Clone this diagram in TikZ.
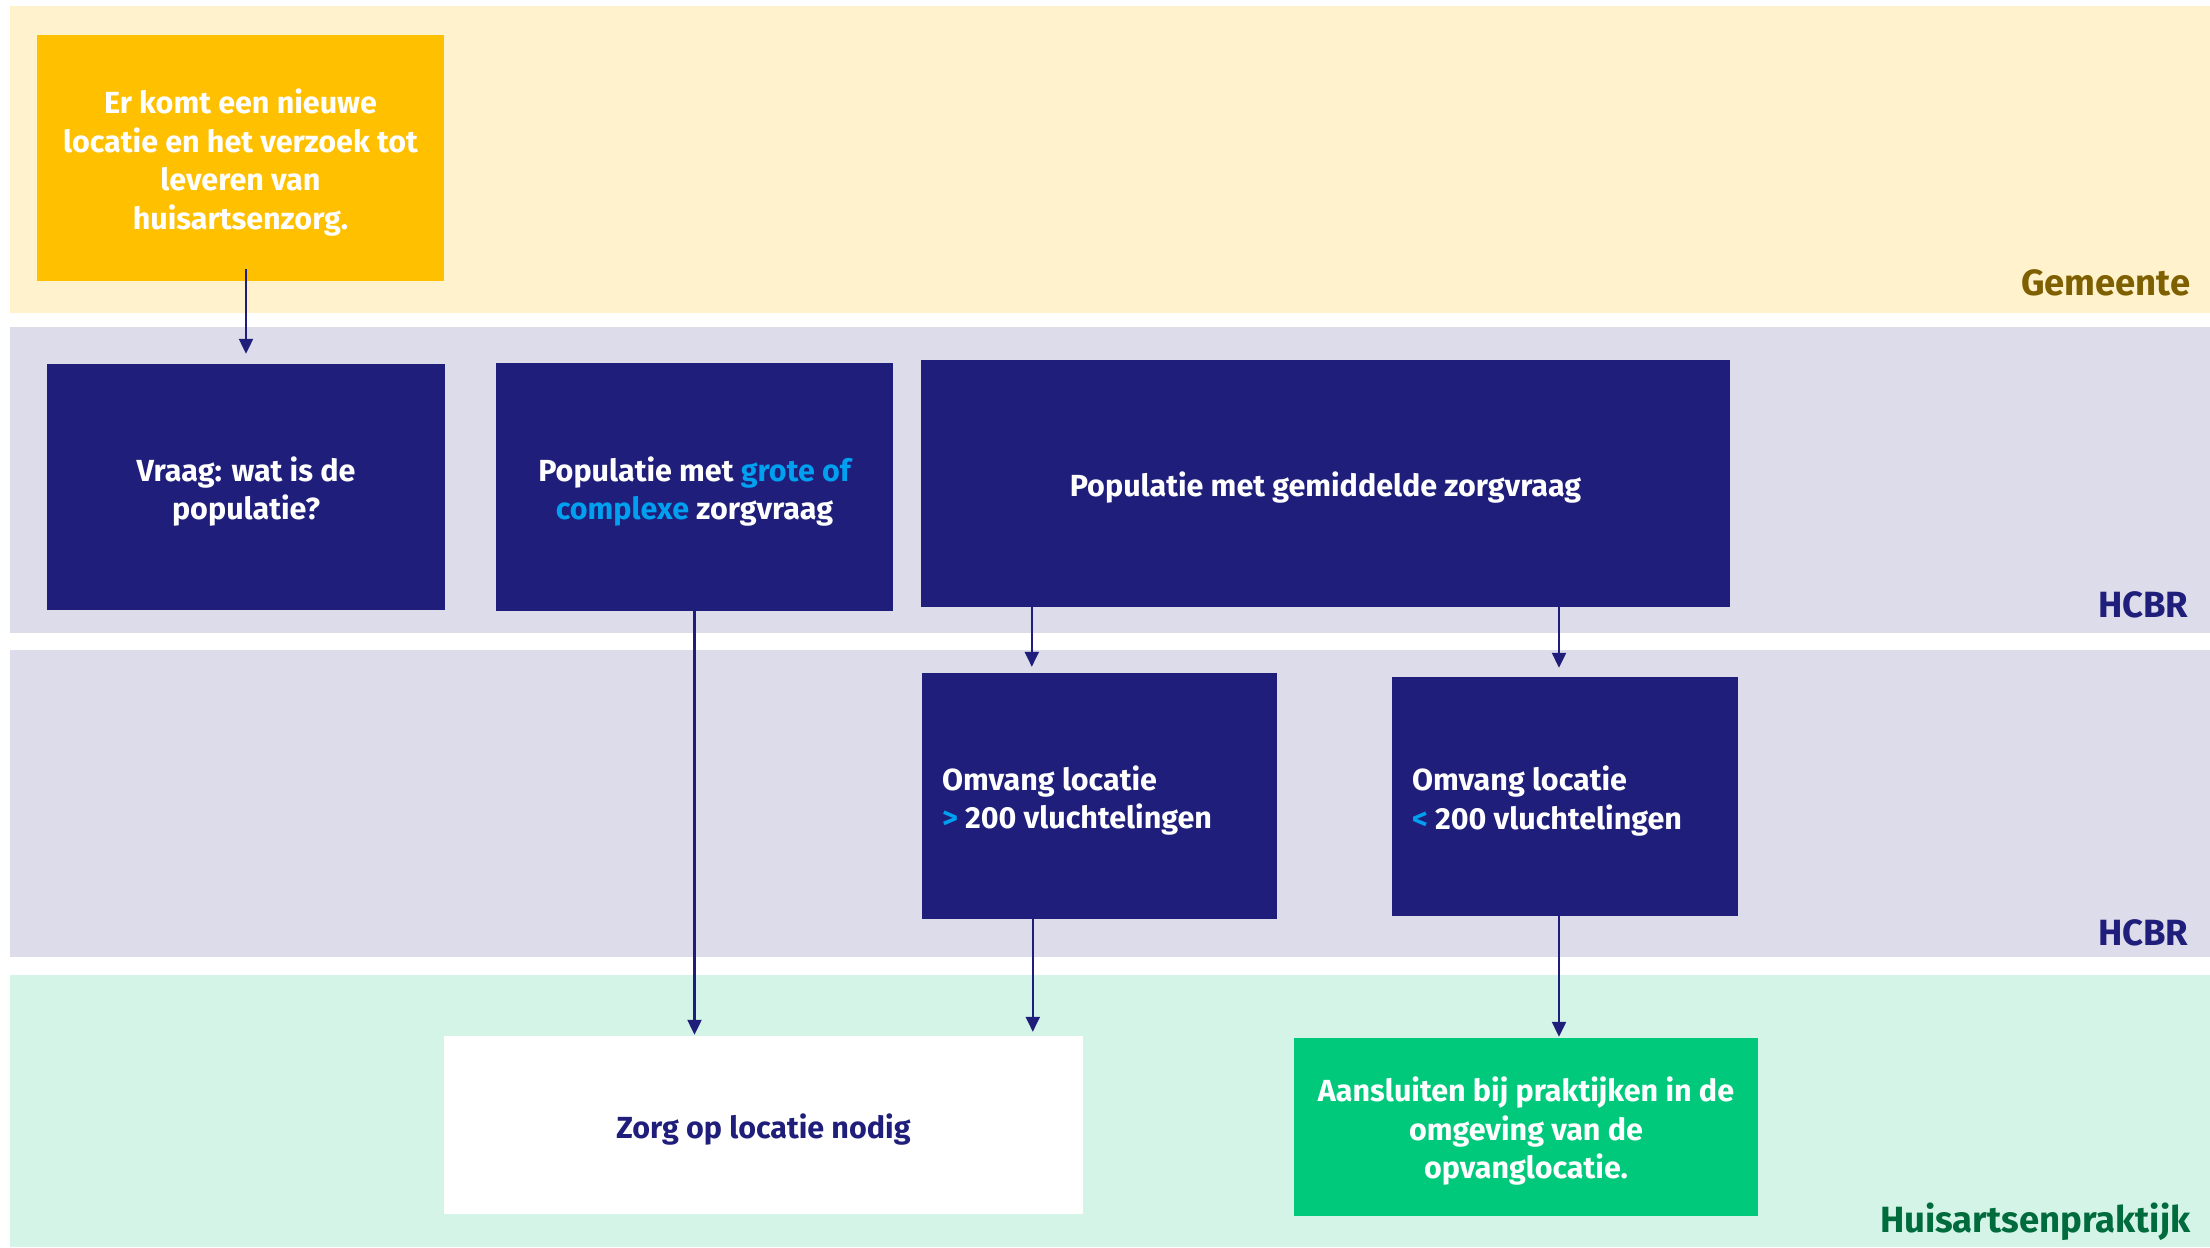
\documentclass[tikz,border=0pt]{standalone}
\usepackage{fontspec}
\setmainfont{Fira Sans}
\usetikzlibrary{arrows.meta}
\definecolor{navy}{RGB}{31,30,122}
\definecolor{bandY}{RGB}{255,242,204}
\definecolor{bandL}{RGB}{220,220,234}
\definecolor{bandG}{RGB}{211,244,230}
\definecolor{boxY}{RGB}{255,192,0}
\definecolor{boxG}{RGB}{0,201,124}
\definecolor{hl}{RGB}{0,160,240}
\definecolor{labY}{RGB}{127,96,0}
\definecolor{labG}{RGB}{0,107,60}
\begin{document}
\begin{tikzpicture}[x=1pt,y=-1pt,
  stepbox/.style={rectangle, inner sep=0pt},
  txt/.style={font=\fontsize{30.5}{38.5}\selectfont\bfseries, inner sep=0pt, align=center, text=white},
  lane/.style={anchor=base east, font=\fontsize{36.5}{40}\selectfont\bfseries},
  arr/.style={draw=navy, line width=2.2pt, -{Triangle[length=15pt,width=14pt]}}
]
\useasboundingbox (0,0) rectangle (2210,1247);
% lanes
\fill[bandY] (10,6) rectangle (2210,313);
\fill[bandL] (10,327) rectangle (2210,633);
\fill[bandL] (10,650) rectangle (2210,957);
\fill[bandG] (10,975) rectangle (2210,1247);
\node[lane, text=labY] (lgem) at (2194,295) {Gemeente};
\node[lane, text=navy] (lhc1) at (2192,617) {HCBR};
\node[lane, text=navy] (lhc2) at (2192,945) {HCBR};
\node[lane, text=labG] (lhuis) at (2194,1232) {Huisartsenpraktijk};
% boxes
\node[stepbox, fill=boxY, minimum width=407pt, minimum height=246pt] (ybox) at (240.5,158) {};
\node[stepbox, fill=navy, minimum width=398pt, minimum height=246pt] (box1) at (246,487) {};
\node[stepbox, fill=navy, minimum width=397pt, minimum height=248pt] (box2) at (694.5,487) {};
\node[stepbox, fill=navy, minimum width=809pt, minimum height=247pt] (box3) at (1325.5,483.5) {};
\node[stepbox, fill=navy, minimum width=355pt, minimum height=246pt] (box4) at (1099.5,796) {};
\node[stepbox, fill=navy, minimum width=346pt, minimum height=239pt] (box5) at (1565,796.5) {};
\node[stepbox, fill=white, minimum width=639pt, minimum height=178pt] (wbox) at (763.5,1125) {};
\node[stepbox, fill=boxG, minimum width=464pt, minimum height=178pt] (gbox) at (1526,1127) {};
% texts
\node[txt] (yboxt) at ([yshift=-4.5pt]ybox.center)
  {Er komt een nieuwe\\locatie en het verzoek tot\\leveren van\\huisartsenzorg.};
\node[txt] (box1t) at ([yshift=-4.5pt]box1.center) {Vraag: wat is de\\populatie?};
\node[txt] (box2t) at ([yshift=-4.5pt]box2.center)
  {Populatie met {\color{hl}grote of}\\{\color{hl}complexe} zorgvraag};
\node[txt] (box3t) at ([yshift=-4.5pt]box3.center) {Populatie met gemiddelde zorgvraag};
\node[txt, align=left, anchor=west] (box4t) at ([xshift=20pt,yshift=-4.5pt]box4.west)
  {Omvang locatie\\{\color{hl}>} 200 vluchtelingen};
\node[txt, align=left, anchor=west] (box5t) at ([xshift=20pt,yshift=-4.5pt]box5.west)
  {Omvang locatie\\{\color{hl}<} 200 vluchtelingen};
\node[txt, text=navy] (wboxt) at ([yshift=-4.5pt]wbox.center) {Zorg op locatie nodig};
\node[txt] (gboxt) at ([yshift=-4.5pt]gbox.center)
  {Aansluiten bij praktijken in de\\omgeving van de\\opvanglocatie.};
% connectors
\draw[arr, shorten >=10pt] ([yshift=12pt]box1.north |- ybox.south) -- (box1.north);
\draw[arr, shorten >=1pt] (box2.south) -- (box2.south |- wbox.north);
\draw[arr, shorten >=6pt] ([xshift=111pt]box3.south west) -- ([xshift=111pt]box3.south west |- box4.north);
\draw[arr, shorten >=9pt] ([xshift=-6pt]box5.north |- box3.south) -- ([xshift=-6pt]box5.north);
\draw[arr, shorten >=4pt] ([xshift=111pt]box4.south west) -- ([xshift=111pt]box4.south west |- wbox.north);
\draw[arr, shorten >=1pt] ([xshift=-6pt]box5.south) -- ([xshift=-6pt]box5.south |- gbox.north);
\end{tikzpicture}
\end{document}
